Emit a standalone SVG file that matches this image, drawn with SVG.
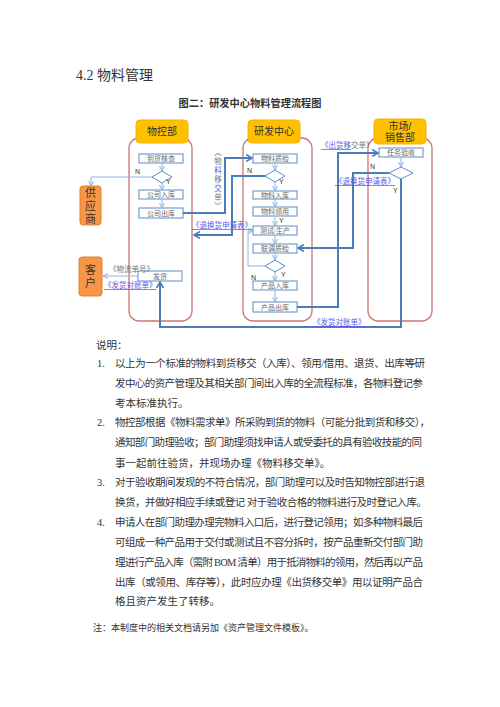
<svg xmlns="http://www.w3.org/2000/svg" width="500" height="707" viewBox="0 0 500 707">
<defs>
<style>
.t{font-family:"Liberation Serif","Noto Sans CJK SC",serif;fill:#333}
.lane{fill:#fff;stroke:#C97673;stroke-width:1.3}
.hdr{fill:#FFC000;stroke:#F2B400;stroke-width:1}
.ht{font-family:"Liberation Sans","Noto Sans CJK SC",sans-serif;font-size:10px;fill:#333;text-anchor:middle}
.ext{fill:#F79646;stroke:#E0802C;stroke-width:1}
.et{font-family:"Liberation Sans","Noto Sans CJK SC",sans-serif;font-size:11px;fill:#333;text-anchor:middle}
.box{fill:#fff;stroke:#5B8CC8;stroke-width:1}
.bt{font-family:"Liberation Serif","Noto Sans CJK SC",serif;font-size:7px;fill:#666;text-anchor:middle}
.dia{fill:#fff;stroke:#5B8CC8;stroke-width:1}
.yn{font-family:"Liberation Sans",sans-serif;font-size:7px;fill:#333}
.thin{fill:none;stroke:#8DB3E2;stroke-width:1;marker-end:url(#a1)}
.thick{fill:none;stroke:#4A7EBB;stroke-width:2;marker-end:url(#a2)}
.lb{font-family:"Liberation Serif","Noto Sans CJK SC",serif;font-size:7.5px}
.vc{font-family:"Liberation Serif","Noto Sans CJK SC",serif;font-size:7.5px;text-anchor:middle}
.blue{fill:#5B5BE8}
.gray{fill:#777}
</style>
<marker id="a1" markerWidth="6" markerHeight="6" refX="5" refY="3" orient="auto" markerUnits="userSpaceOnUse">
<path d="M0,0.5 L5,3 L0,5.5" fill="none" stroke="#8DB3E2" stroke-width="1"/>
</marker>
<marker id="a2" markerWidth="8" markerHeight="8" refX="6" refY="4" orient="auto" markerUnits="userSpaceOnUse">
<path d="M0,0.5 L6,4 L0,7.5" fill="none" stroke="#4A7EBB" stroke-width="1.6"/>
</marker>
</defs>
<rect width="500" height="707" fill="#fff"/>

<text class="t" x="76" y="80" font-size="14">4.2 物料管理</text>
<text class="t" x="250" y="107" font-size="10.2" font-weight="bold" text-anchor="middle" textLength="143" lengthAdjust="spacing">图二：研发中心物料管理流程图</text>

<g id="lane-wukong">
<rect class="lane" x="129" y="138" width="63" height="183" rx="10"/>
<rect class="hdr" x="136" y="120" width="52" height="23" rx="4"/>
<text class="ht" x="162" y="135">物控部</text>
</g>
<g id="lane-yanfa">
<rect class="lane" x="243" y="138" width="69" height="183" rx="10"/>
<rect class="hdr" x="248" y="120" width="52" height="23" rx="4"/>
<text class="ht" x="274" y="135">研发中心</text>
</g>
<g id="lane-shichang">
<rect class="lane" x="368" y="138" width="64" height="183" rx="10"/>
<rect class="hdr" x="374" y="119" width="52" height="25" rx="4"/>
<text class="ht" x="400" y="130">市场/</text>
<text class="ht" x="400" y="141">销售部</text>
</g>

<g id="supplier">
<rect class="ext" x="80" y="186" width="21" height="39" rx="3"/>
<text class="et" x="90.5" y="197">供</text>
<text class="et" x="90.5" y="210">应</text>
<text class="et" x="90.5" y="223">商</text>
</g>
<g id="customer">
<rect class="ext" x="79" y="257" width="23" height="39" rx="3"/>
<text class="et" x="90.5" y="274">客</text>
<text class="et" x="90.5" y="287">户</text>
</g>

<g id="n-daohuo"><rect class="box" x="139" y="154" width="44" height="9"/><text class="bt" x="161" y="161">到货核查</text></g>
<g id="d-wukong"><path class="dia" d="M162,171 L172,177 L162,183 L152,177 Z"/></g>
<g id="n-gongsiruku"><rect class="box" x="139" y="190" width="44" height="9"/><text class="bt" x="161" y="197">公司入库</text></g>
<g id="n-gongsichuku"><rect class="box" x="139" y="208" width="44" height="10"/><text class="bt" x="161" y="215.5">公司出库</text></g>
<g id="n-fahuo"><rect class="box" x="138" y="271" width="44" height="10"/><text class="bt" x="160" y="278.5">发货</text></g>

<g id="n-zhijian"><rect class="box" x="253" y="154" width="44" height="9"/><text class="bt" x="275" y="161">物料质检</text></g>
<g id="d-yanfa1"><path class="dia" d="M275,170 L285,176 L275,182 L265,176 Z"/></g>
<g id="n-wuliaoruku"><rect class="box" x="253" y="191" width="44" height="8"/><text class="bt" x="275" y="197.5">物料入库</text></g>
<g id="n-lingyong"><rect class="box" x="253" y="207" width="44" height="9"/><text class="bt" x="275" y="214">物料领用</text></g>
<g id="n-ceshi"><rect class="box" x="253" y="226" width="44" height="9"/><text class="bt" x="275" y="233">测试/生产</text></g>
<g id="n-liantiao"><rect class="box" x="253" y="244" width="44" height="9"/><text class="bt" x="275" y="251">联调质检</text></g>
<g id="d-yanfa2"><path class="dia" d="M275,260 L285,266 L275,272 L265,266 Z"/></g>
<g id="n-chanpinruku"><rect class="box" x="253" y="281" width="44" height="9"/><text class="bt" x="275" y="288">产品入库</text></g>
<g id="n-chanpinchuku"><rect class="box" x="253" y="302" width="44" height="10"/><text class="bt" x="275" y="309.5">产品出库</text></g>

<g id="n-renwu"><rect class="box" x="379" y="148" width="44" height="9"/><text class="bt" x="401" y="155">任务验收</text></g>
<g id="d-shichang"><path class="dia" d="M401,167 L413,173 L401,179 L389,173 Z"/></g>

<g id="connectors">
<path class="thin" d="M162,163 V171"/>
<path class="thin" d="M162,183 V190"/>
<path class="thin" d="M162,199 V208"/>
<path class="thin" d="M152,177 H91 V186"/>
<path class="thin" d="M138,276 H103"/>
<path class="thin" d="M275,163 V170"/>
<path class="thin" d="M275,182 V191"/>
<path class="thin" d="M275,199 V207"/>
<path class="thin" d="M275,216 V226"/>
<path class="thin" d="M275,235 V244"/>
<path class="thin" d="M275,253 V260"/>
<path class="thin" d="M275,272 V281"/>
<path class="thin" d="M275,290 V302"/>
<path class="thin" d="M265,266 H248 V231 H253"/>
<path class="thin" d="M401,157 V167"/>
<path class="thick" d="M183,213 H225 V158 H252"/>
<path class="thick" d="M265,176 H232 V235 H194"/>
<path class="thick" d="M389,173 H353 V248 H298"/>
<path class="thick" d="M297,307 H338 V153 H378"/>
<path class="thick" d="M401,179 V327 H160 V282"/>
</g>

<g id="labels">
<text class="yn" x="135" y="174">N</text>
<text class="yn" x="166" y="184">Y</text>
<text class="yn" x="247" y="173">N</text>
<text class="yn" x="279" y="184">Y</text>
<text class="yn" x="279" y="223">Y</text>
<text class="yn" x="281" y="277">Y</text>
<text class="yn" x="251" y="280">N</text>
<text class="yn" x="370" y="169">N</text>
<text class="yn" x="393" y="193">Y</text>
<text class="vc gray" x="218" y="155">︽</text>
<text class="vc gray" x="218" y="164">物</text>
<text class="vc blue" x="218" y="173">料</text>
<text class="vc gray" x="218" y="182">移</text>
<text class="vc blue" x="218" y="191">交</text>
<text class="vc gray" x="218" y="200">单</text>
<text class="vc gray" x="218" y="209">︾</text>
<text class="lb" x="321" y="148"><tspan class="blue" text-decoration="underline">《出货移</tspan><tspan class="gray">交单》</tspan></text>
<text class="lb blue" x="335" y="184" text-decoration="underline">《退换货申请表》</text>
<text class="lb blue" x="192" y="228" text-decoration="underline">《退换货申请表》</text>
<text class="lb blue" x="313" y="325" text-decoration="underline">《发货对账单》</text>
<text class="lb gray" x="109" y="272">《物流单号》</text>
<text class="lb blue" x="104" y="288" text-decoration="underline">《发货对账单》</text>
</g>

<g id="notes" class="t" font-size="10.5">
<text x="96" y="349">说明：</text>
<text x="97" y="367">1.</text>
<text x="115" y="367" textLength="310" lengthAdjust="spacing">以上为一个标准的物料到货移交（入库）、领用/借用、退货、出库等研</text>
<text x="115" y="387" textLength="308" lengthAdjust="spacing">发中心的资产管理及其相关部门间出入库的全流程标准，各物料登记参</text>
<text x="115" y="407">考本标准执行。</text>
<text x="97" y="426">2.</text>
<text x="115" y="426" textLength="315" lengthAdjust="spacing">物控部根据《物料需求单》所采购到货的物料（可能分批到货和移交），</text>
<text x="115" y="446" textLength="307" lengthAdjust="spacing">通知部门助理验收；部门助理须找申请人或受委托的具有验收技能的同</text>
<text x="115" y="467">事一起前往验货，并现场办理《物料移交单》。</text>
<text x="97" y="486">3.</text>
<text x="115" y="486" textLength="310" lengthAdjust="spacing">对于验收期间发现的不符合情况，部门助理可以及时告知物控部进行退</text>
<text x="115" y="506" textLength="312" lengthAdjust="spacing">换货，并做好相应手续或登记 对于验收合格的物料进行及时登记入库。</text>
<text x="97" y="526">4.</text>
<text x="115" y="526" textLength="308" lengthAdjust="spacing">申请人在部门助理办理完物料入口后，进行登记领用；如多种物料最后</text>
<text x="115" y="546" textLength="308" lengthAdjust="spacing">可组成一种产品用于交付或测试且不容分拆时，按产品重新交付部门助</text>
<text x="115" y="566" textLength="308" lengthAdjust="spacing">理进行产品入库（需附 BOM 清单）用于抵消物料的领用，然后再以产品</text>
<text x="115" y="586" textLength="308" lengthAdjust="spacing">出库（或领用、库存等），此时应办理《出货移交单》用以证明产品合</text>
<text x="115" y="605">格且资产发生了转移。</text>
<text x="93" y="631" font-size="9">注：本制度中的相关文档请另加《资产管理文件模板》。</text>
</g>
</svg>
